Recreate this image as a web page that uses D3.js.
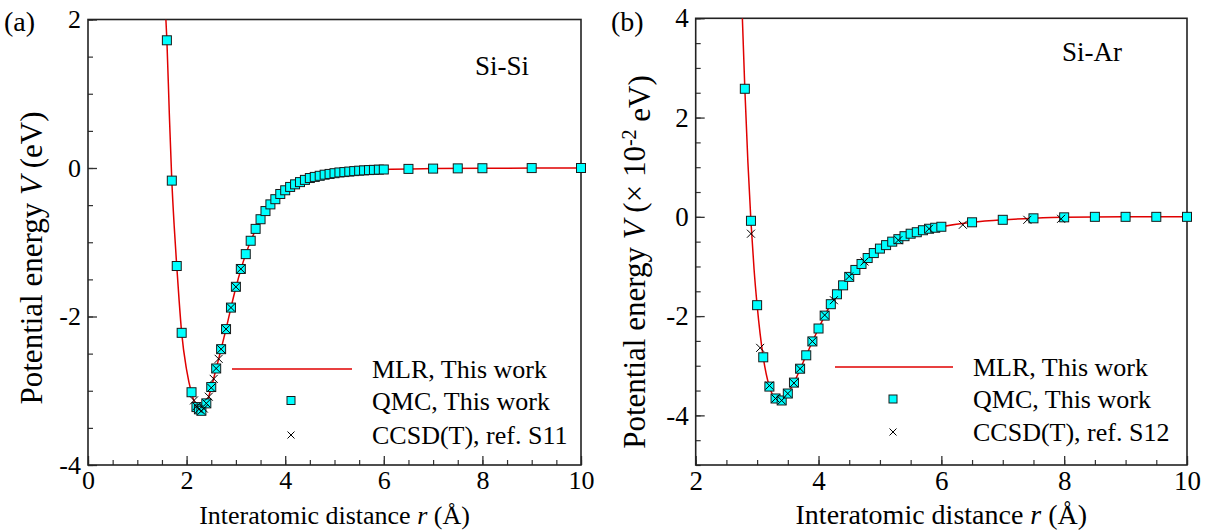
<!DOCTYPE html>
<html><head><meta charset="utf-8">
<script src="https://cdn.jsdelivr.net/npm/d3@7/dist/d3.min.js"></script>
<style>
body{margin:0;background:#fff;}
svg text{font-family:"Liberation Serif","Times New Roman",serif;fill:#000;}
</style></head>
<body><svg id="c" width="1211" height="532"></svg>
<script>
// ---------- Data: panel (a) Si-Si (eV) ----------
const siSiQmcR = [1.6,1.7,1.8,1.9,2.1,2.2,2.25,2.3,2.4,2.5,2.6,2.7,2.8,2.9,3.0,3.1,3.2,3.3,3.4,3.5,3.6,3.7,3.8,3.9,4.0,4.1,4.2,4.3,4.4,4.5,4.6,4.7,4.8,4.9,5.0,5.1,5.2,5.3,5.4,5.5,5.6,5.7,5.8,5.9,6.0,6.5,7.0,7.5,8.0,9.0,10.0];
const siSiQmcV = [1.72,-0.17,-1.32,-2.22,-3.02,-3.22,-3.25,-3.27,-3.17,-2.95,-2.70,-2.44,-2.17,-1.88,-1.60,-1.36,-1.16,-0.98,-0.82,-0.69,-0.58,-0.49,-0.42,-0.35,-0.30,-0.255,-0.22,-0.19,-0.16,-0.135,-0.12,-0.105,-0.09,-0.08,-0.07,-0.06,-0.055,-0.048,-0.042,-0.036,-0.032,-0.028,-0.025,-0.022,-0.02,-0.012,-0.008,-0.005,-0.003,-0.001,0];
const siSiCcsdR = [2.15,2.2,2.25,2.3,2.35,2.4,2.45,2.5,2.55,2.6,2.65,2.7,2.8,2.9,3.0,3.1];
const siSiCcsdV = [-3.13,-3.21,-3.25,-3.27,-3.24,-3.17,-3.08,-2.96,-2.84,-2.70,-2.57,-2.44,-2.17,-1.88,-1.60,-1.36];
const siSiMlrR = [1.58,1.6,1.65,1.7,1.75,1.8,1.85,1.9,2.0,2.1,2.2,2.3,2.4,2.5,2.6,2.7,2.8,2.9,3.0,3.2,3.4,3.6,3.8,4.0,4.5,5.0,5.5,6.0,7.0,8.0,10.0];
const siSiMlrV = [2.0,1.72,0.72,-0.17,-0.80,-1.32,-1.80,-2.22,-2.72,-3.03,-3.21,-3.26,-3.17,-2.96,-2.70,-2.44,-2.17,-1.88,-1.61,-1.16,-0.83,-0.58,-0.42,-0.30,-0.135,-0.07,-0.036,-0.02,-0.008,-0.003,0];

// ---------- Data: panel (b) Si-Ar (x10^-2 eV) ----------
const siArQmcR = [2.8,2.9,3.0,3.1,3.2,3.3,3.4,3.5,3.6,3.7,3.8,3.9,4.0,4.1,4.2,4.3,4.4,4.5,4.6,4.7,4.8,4.9,5.0,5.1,5.2,5.3,5.4,5.5,5.6,5.7,5.8,5.9,6.0,6.5,7.0,7.5,8.0,8.5,9.0,9.5,10.0];
const siArQmcV = [2.58,-0.08,-1.78,-2.83,-3.42,-3.66,-3.70,-3.56,-3.34,-3.06,-2.79,-2.51,-2.25,-1.99,-1.76,-1.56,-1.38,-1.21,-1.07,-0.95,-0.83,-0.73,-0.64,-0.57,-0.50,-0.45,-0.39,-0.34,-0.31,-0.27,-0.24,-0.22,-0.20,-0.11,-0.06,-0.03,-0.01,0,0,0,0];
const siArCcsdR = [2.9,3.05,3.2,3.3,3.4,3.5,3.6,3.7,3.9,4.1,4.25,4.5,4.75,5.3,5.8,6.35,7.4,7.95];
const siArCcsdV = [-0.34,-2.64,-3.40,-3.66,-3.70,-3.56,-3.35,-3.06,-2.51,-1.98,-1.68,-1.20,-0.90,-0.47,-0.24,-0.16,-0.06,-0.04];
const siArMlrR = [2.76,2.8,2.85,2.9,2.95,3.0,3.1,3.2,3.3,3.4,3.5,3.6,3.8,4.0,4.2,4.4,4.6,4.8,5.0,5.5,6.0,6.5,7.0,7.5,8.0,9.0,10.0];
const siArMlrV = [4.0,2.58,1.10,-0.10,-1.05,-1.78,-2.83,-3.42,-3.66,-3.70,-3.56,-3.34,-2.79,-2.25,-1.76,-1.38,-1.07,-0.83,-0.64,-0.34,-0.20,-0.11,-0.06,-0.03,-0.01,0,0];

// ---------- Axis ticks / labels ----------
const aXTicks = [0,2,4,6,8,10];
const aYTicks = [-4,-2,0,2];
const bXTicks = [2,4,6,8,10];
const bYTicks = [-4,-2,0,2,4];
const legendLabelsA = ["MLR, This work","QMC, This work","CCSD(T), ref. S11"];
const legendLabelsB = ["MLR, This work","QMC, This work","CCSD(T), ref. S12"];

const zip = (a,b)=>a.map((v,i)=>[v,b[i]]);
const svg = d3.select("#c");

function panel(cfg){
  const {left,right,top,bottom,xDom,yDom,xTicks,yTicks,qmc,ccsd,mlr,legend,legPos,tag,tagX,name,nameX,nameY,ytitle,ytitleX,ytitleY,id,tickFS,xPad,xtFS} = cfg;
  const x = d3.scaleLinear().domain(xDom).range([left,right]);
  const y = d3.scaleLinear().domain(yDom).range([bottom,top]);
  const g = svg.append("g");
  const clipId = "clip"+id;
  svg.append("clipPath").attr("id",clipId).append("rect")
    .attr("x",left).attr("y",top).attr("width",right-left).attr("height",bottom-top);

  const fmt = d=>String(d);
  // minor ticks
  const minorX = d3.range(xDom[0],xDom[1]+0.001,0.5);
  const minorY = d3.range(yDom[0],yDom[1]+0.001,0.5);
  g.append("g").attr("transform",`translate(0,${bottom})`)
    .call(d3.axisBottom(x).tickValues(minorX).tickSize(-5).tickFormat(""))
    .call(s=>s.select(".domain").remove())
    .selectAll("line").attr("stroke","#333").attr("stroke-width",1.2);
  g.append("g").attr("transform",`translate(${left},0)`)
    .call(d3.axisLeft(y).tickValues(minorY).tickSize(-5).tickFormat(""))
    .call(s=>s.select(".domain").remove())
    .selectAll("line").attr("stroke","#333").attr("stroke-width",1.2);
  // major ticks
  const ax = g.append("g").attr("transform",`translate(0,${bottom})`)
    .call(d3.axisBottom(x).tickValues(xTicks).tickSize(-9).tickPadding(xPad).tickFormat(fmt));
  ax.select(".domain").remove();
  ax.selectAll("line").attr("stroke","#333").attr("stroke-width",1.3);
  ax.selectAll("text").style("font-size",tickFS+"px").attr("font-family",null);
  const ay = g.append("g").attr("transform",`translate(${left},0)`)
    .call(d3.axisLeft(y).tickValues(yTicks).tickSize(-9).tickPadding(7).tickFormat(fmt));
  ay.select(".domain").remove();
  ay.selectAll("line").attr("stroke","#333").attr("stroke-width",1.3);
  ay.selectAll("text").style("font-size",tickFS+"px").attr("font-family",null);

  // frame
  g.append("rect").attr("x",left).attr("y",top).attr("width",right-left).attr("height",bottom-top)
    .attr("fill","none").attr("stroke","#222").attr("stroke-width",1.6);

  const plot = g.append("g").attr("clip-path",`url(#${clipId})`);
  // MLR line
  plot.append("path").datum(mlr)
    .attr("d",d3.line().x(d=>x(d[0])).y(d=>y(d[1])).curve(d3.curveMonotoneX))
    .attr("fill","none").attr("stroke","#e00000").attr("stroke-width",1.5);
  // QMC squares
  const S = 9;
  g.append("g").selectAll("rect").data(qmc).join("rect")
    .attr("x",d=>x(d[0])-S/2).attr("y",d=>y(d[1])-S/2).attr("width",S).attr("height",S)
    .attr("fill","#00ffff").attr("stroke","#1a1a1a").attr("stroke-width",1);
  // CCSD crosses
  const C = 4;
  g.append("g").selectAll("path").data(ccsd).join("path")
    .attr("d",d=>{const cx=x(d[0]),cy=y(d[1]);return `M${cx-C},${cy-C}L${cx+C},${cy+C}M${cx-C},${cy+C}L${cx+C},${cy-C}`;})
    .attr("stroke","#000").attr("stroke-width",1).attr("fill","none");

  // legend
  const [lx0,lx1,ly,mx,tx,rows] = legPos;
  g.append("line").attr("x1",lx0).attr("x2",lx1).attr("y1",rows[0]).attr("y2",rows[0]).attr("stroke","#e00000").attr("stroke-width",1.5);
  g.append("rect").attr("x",mx-4).attr("y",rows[1]-4).attr("width",8).attr("height",8)
    .attr("fill","#00ffff").attr("stroke","#1a1a1a").attr("stroke-width",1);
  const cy2 = rows[2];
  g.append("path").attr("d",`M${mx-3.5},${cy2-3.5}L${mx+3.5},${cy2+3.5}M${mx-3.5},${cy2+3.5}L${mx+3.5},${cy2-3.5}`)
    .attr("stroke","#000").attr("stroke-width",1);
  legend.forEach((t,i)=>{
    g.append("text").attr("x",tx).attr("y",rows[i]).attr("dy","0.35em").style("font-size","26px").text(t);
  });

  // panel tag and system name
  g.append("text").attr("x",tagX).attr("y",31).style("font-size","28px").text(tag);
  g.append("text").attr("x",nameX).attr("y",nameY).style("font-size","27px").text(name);

  // x title
  const xt = g.append("text").attr("x",(left+right)/2).attr("y",524).attr("text-anchor","middle").style("font-size",xtFS+"px");
  xt.append("tspan").text("Interatomic distance ");
  xt.append("tspan").style("font-style","italic").text("r");
  xt.append("tspan").text(" (Å)");
  // y title
  const yt = g.append("text").attr("transform",`translate(${ytitleX},${ytitleY}) rotate(-90)`).attr("text-anchor","middle").style("font-size","31px");
  ytitle(yt);
}

panel({id:"a",left:88,right:581,top:19.5,bottom:465,xDom:[0,10],yDom:[-4,2],xTicks:aXTicks,yTicks:aYTicks,
  tickFS:26,xPad:6,xtFS:26,
  qmc:zip(siSiQmcR,siSiQmcV),ccsd:zip(siSiCcsdR,siSiCcsdV),mlr:zip(siSiMlrR,siSiMlrV),
  legend:legendLabelsA,legPos:[232,352,369,291,372,[369,400.5,435]],tag:"(a)",tagX:4,name:"Si-Si",nameX:475,nameY:75,
  ytitleX:42,ytitleY:258,
  ytitle:t=>{t.append("tspan").text("Potential energy ");t.append("tspan").style("font-style","italic").text("V");t.append("tspan").text(" (eV)");}});

panel({id:"b",left:695.7,right:1187,top:18.3,bottom:465,xDom:[2,10],yDom:[-5,4],xTicks:bXTicks,yTicks:bYTicks,
  tickFS:27,xPad:6,xtFS:28,
  qmc:zip(siArQmcR,siArQmcV),ccsd:zip(siArCcsdR,siArCcsdV),mlr:zip(siArMlrR,siArMlrV),
  legend:legendLabelsB,legPos:[835,953,367,893,973,[367,399,432]],tag:"(b)",tagX:611,name:"Si-Ar",nameX:1062,nameY:61,
  ytitleX:645,ytitleY:262,
  ytitle:t=>{t.append("tspan").text("Potential energy ");t.append("tspan").style("font-style","italic").text("V");
    t.append("tspan").text(" (× 10");t.append("tspan").attr("dy","-0.45em").style("font-size","20px").text("-2");
    t.append("tspan").attr("dy","0.45em").text(" eV)");}});
</script></body></html>
